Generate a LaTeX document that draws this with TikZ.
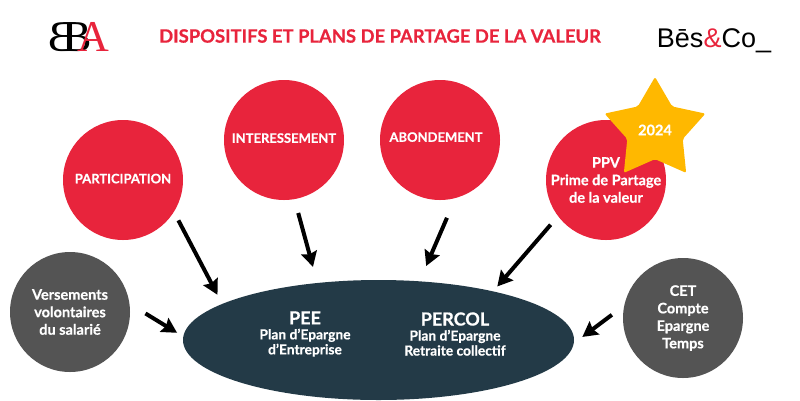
\documentclass[tikz,border=0pt]{standalone}
\usepackage{fontspec}
\setmainfont{Lato}[BoldFont=Lato Bold,BoldFeatures={FakeBold=0.6}]
\newfontfamily\logofont{Liberation Sans}
\newfontfamily\bbafont{Liberation Serif}
\usetikzlibrary{arrows.meta,shapes.geometric}
\definecolor{bsred}{HTML}{E8243C}
\definecolor{bsgrey}{HTML}{545454}
\definecolor{bsnavy}{HTML}{233A47}
\definecolor{bsgold}{HTML}{FFB800}
\tikzset{
        disc/.style={circle, minimum size=120pt, inner sep=0pt, outer sep=0pt, text=white, align=center, font=\bfseries\fontsize{13}{17.5}\selectfont},
        reddisc/.style={disc, fill=bsred},
        greydisc/.style={disc, fill=bsgrey, font=\bfseries\fontsize{14.5}{17.5}\selectfont},
        plan/.style={text=white, align=center, inner sep=0pt, font=\bfseries\fontsize{13.8}{15}\selectfont},
        flow/.style={draw=black, line width=4pt, -{Stealth[length=15pt,width=16pt,inset=2pt]}}
          }

\begin{document}
\begin{tikzpicture}[x=1pt,y=-1pt]
        \useasboundingbox (0,0) rectangle (800,400);
        % header
        \node[text=bsred, font=\bfseries\fontsize{18.4}{20}\selectfont] (title) at (380,36) {DISPOSITIFS ET PLANS DE PARTAGE DE LA VALEUR};
        \node[font=\bbafont\fontsize{44}{44}\selectfont, inner sep=0pt] (bbaleft) at (63,37) {\reflectbox{B}};
        \node[font=\bbafont\fontsize{44}{44}\selectfont, inner sep=0pt] (bbamid) at (77,37) {B};
        \node[font=\bbafont\fontsize{44}{44}\selectfont, inner sep=0pt, text=bsred] (bbaright) at (93,37) {A};
        \node[font=\logofont\fontsize{27}{27}\selectfont, inner sep=0pt] (besco) at (714,41) {Bēs{\color{bsred}\&}Co\_};
        % discs
        \node[reddisc, text depth=3pt] (participation) at (123,180) {PARTICIPATION};
        \node[reddisc, text depth=4pt] (interessement) at (284,140) {INTERESSEMENT};
        \node[reddisc, text depth=6pt] (abondement) at (440,140) {ABONDEMENT\hspace*{8pt}};
        \node[reddisc, font=\bfseries\fontsize{14.5}{17.5}\selectfont] (ppv) at (606,180) {PPV\\Prime de Partage\\de la valeur};
        \node[greydisc] (versements) at (70,312) {Versements\\volontaires\\du salarié};
        \node[greydisc] (cet) at (683,318) {CET\\Compte\\Epargne\\Temps};
        \node[star, star points=5, star point ratio=1.82, minimum size=106pt, inner sep=0pt, fill=bsgold, rounded corners=2pt, text=white, font=\bfseries\fontsize{14.5}{15}\selectfont] (annee) at (655,130) {2024};
        % plans
        \node[ellipse, minimum width=391pt, minimum height=120pt, inner sep=0pt, outer sep=0pt, fill=bsnavy] (plans) at (378.5,340) {};
        \node[plan] (pee) at (305,334) {{\fontsize{18}{20}\selectfont PEE}\\Plan d'Epargne\\d'Entreprise};
        \node[plan] (percol) at (455,334) {{\fontsize{18}{20}\selectfont PERCOL}\\Plan d'Epargne\\Retraite collectif};
        % arrows
        \draw[flow, shorten <=9.7pt, shorten >=10.3pt] (participation.-32.7) -- (plans.167.1);
        \draw[flow, shorten <=14.4pt, shorten >=16.7pt] (interessement.-80.3) -- (plans.137);
        \draw[flow, shorten <=21.6pt, shorten >=16.7pt] (abondement.-75.8) -- (plans.55.9);
        \draw[flow, shorten <=11.4pt, shorten >=6.5pt] (ppv.-143.7) -- (plans.23.6);
        \draw[flow, shorten <=18.8pt, shorten >=7.3pt] (versements.8.9) -- (plans.179.4);
        \draw[flow, shorten <=15.5pt, shorten >=10.8pt] (cet.168.1) -- (plans.-1.3);
      \end{tikzpicture}
\end{document}
